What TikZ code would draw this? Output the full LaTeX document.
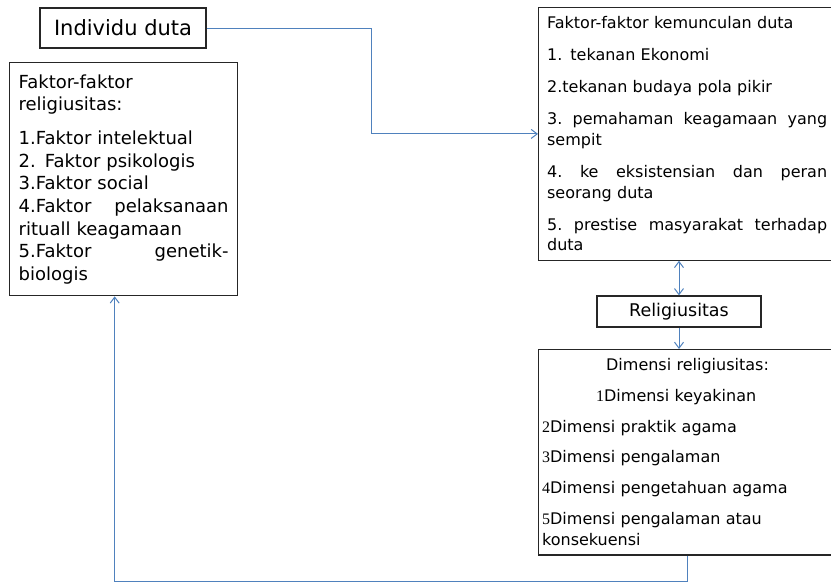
\documentclass[tikz,border=0pt]{standalone}
\usepackage{fontspec}
\setmainfont{DejaVu Sans}
\newfontfamily\numfont{Liberation Serif}
\usetikzlibrary{positioning}
\usetikzlibrary{arrows.meta}
\definecolor{linkblue}{RGB}{79,129,189}
\tikzstyle{namebox} = [rectangle, 
minimum height=40pt,
text centered, 
draw=black!85, line width=1.3pt]
\tikzstyle{listbox} = [rectangle, 
anchor=north west, % text starts top left
align=left,
draw=black!85, line width=1.3pt]
\tikzstyle{arrow} = [linkblue, line width=1pt, ->, >={Straight Barb[length=6pt,width=9pt]}]

\begin{document}
\begin{tikzpicture}[x=1pt, y=-1pt]
            \useasboundingbox (0,0) rectangle (831,582);
            \clip (0,0) rectangle (831,582);
            \node (indiv) [namebox, minimum width=166pt, font=\fontsize{21}{25}\selectfont] at (123,28) {Individu duta};
            \node (faktor) [listbox, text width=210pt, inner xsep=9pt, minimum height=233pt, font=\fontsize{18}{22.6}\selectfont] at (9,62) {Faktor-faktor\\religiusitas:\\[11.4pt]1.Faktor intelektual\\2. Faktor psikologis\\3.Faktor social\\4.Faktor\hfill pelaksanaan\\rituall keagamaan\\5.Faktor\hfill genetik-\\biologis};
            \node (kemunculan) [listbox, text width=280pt, inner xsep=8.5pt, minimum height=252.5pt, font=\fontsize{16}{20.7}\selectfont] at (538,7) {Faktor-faktor kemunculan duta\\[11.3pt]1. tekanan Ekonomi\\[11.3pt]2.tekanan budaya pola pikir\\[11.3pt]3.\hfill pemahaman\hfill keagamaan\hfill yang\\sempit\\[11.3pt]4.\hfill ke\hfill eksistensian\hfill dan\hfill peran\\seorang duta\\[11.3pt]5.\hfill prestise\hfill masyarakat\hfill terhadap\\duta};
            \node (religi) [namebox, minimum width=164pt, minimum height=31pt, font=\fontsize{17.5}{21}\selectfont] at (679,311.5) {Religiusitas};
            \node (dimensi) [listbox, text width=291pt, inner xsep=3.5pt, minimum height=205.3pt, font=\fontsize{16}{21.5}\selectfont] at (538,349) {\hspace*{64pt}Dimensi religiusitas:\\[9.2pt]\hspace*{54pt}{\numfont 1}Dimensi keyakinan\\[9.2pt]{\numfont 2}Dimensi praktik agama\\[9.2pt]{\numfont 3}Dimensi pengalaman\\[9.2pt]{\numfont 4}Dimensi pengetahuan agama\\[9.2pt]{\numfont 5}Dimensi pengalaman atau\\konsekuensi};

            \draw [arrow] (indiv.east) -- ++(165,0) |- (kemunculan.west);
            \draw [arrow, <->] (kemunculan.south -| religi.north) -- (religi.north);
            \draw [arrow] (religi.south) -- (religi.south |- dimensi.north);
            \draw [arrow] (dimensi.south) -- ++(0,26.2) -| ([xshift=-9pt]faktor.south);
        \end{tikzpicture}
\end{document}
